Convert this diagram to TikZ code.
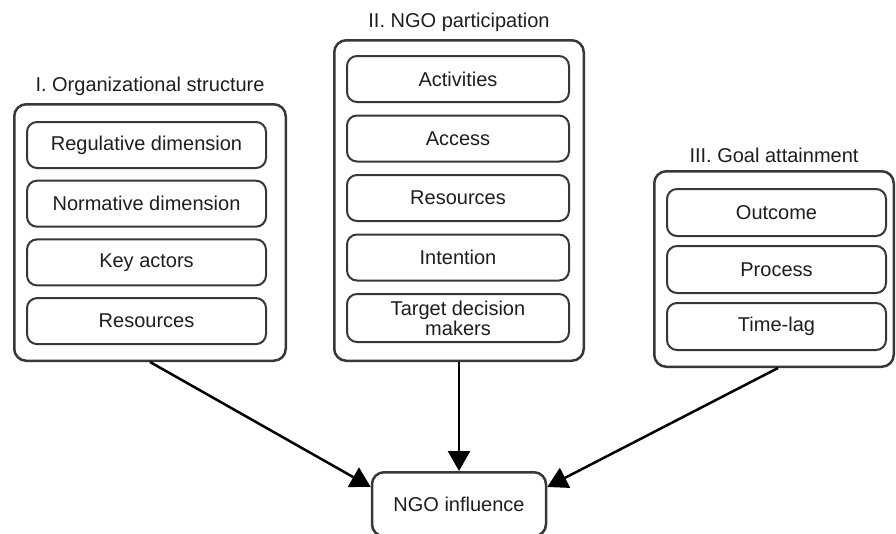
\documentclass[tikz,border=0pt]{standalone}
\usepackage{fontspec}
\setmainfont{Liberation Sans}
\usepackage{xcolor}
\usepackage{tikz}
\usetikzlibrary{arrows.meta, positioning}
\definecolor{edge}{RGB}{55,55,55}
\definecolor{ink}{RGB}{30,30,30}

\begin{document}
\begin{tikzpicture}[
    x=1pt, y=-1pt,
    font=\fontsize{20}{20}\selectfont,
    group/.style={rectangle, draw=edge, line width=2.5pt, rounded corners=12pt, text=ink},
    item/.style={rectangle, draw=edge, line width=2pt, rounded corners=10pt, fill=white, text=ink, inner sep=3pt, minimum height=46pt, align=center},
    title/.style={text=ink},
    link/.style={line width=2.5pt, -{Triangle[length=20pt, width=22pt]}}
]
\useasboundingbox (0,0) rectangle (896,533);

\node[group, minimum width=271.5pt, minimum height=256.5pt] (org) at (150,232.5) {};
\node[title, above=4pt of org] (orgt) {I. Organizational structure};
\node[item, minimum width=239pt, below=18pt of org.north, xshift=-3.5pt] (o1) {Regulative dimension};
\node[item, minimum width=239pt, below=10.7pt of o1] (o2) {Normative dimension};
\node[item, minimum width=239pt, below=10.7pt of o2] (o3) {Key actors};
\node[item, minimum width=239pt, below=10.7pt of o3] (o4) {Resources};

\node[group, minimum width=249.5pt, minimum height=320.5pt] (part) at (459,200.5) {};
\node[title, above=4pt of part] (partt) {II. NGO participation};
\node[item, minimum width=222pt, below=16pt of part.north, xshift=-1pt] (p1) {Activities};
\node[item, minimum width=222pt, below=11.5pt of p1] (p2) {Access};
\node[item, minimum width=222pt, below=11.5pt of p2] (p3) {Resources};
\node[item, minimum width=222pt, below=11.5pt of p3] (p4) {Intention};
\node[item, minimum width=222pt, minimum height=48pt, below=11.5pt of p4] (p5) {Target decision\\makers};

\node[group, minimum width=239.5pt, minimum height=195.5pt] (goal) at (774,269) {};
\node[title, above=4pt of goal] (goalt) {III. Goal attainment};
\node[item, minimum width=219pt, minimum height=47pt, below=18pt of goal.north, xshift=2.5pt] (g1) {Outcome};
\node[item, minimum width=219pt, minimum height=47pt, below=8pt of g1] (g2) {Process};
\node[item, minimum width=219pt, minimum height=47pt, below=8pt of g2] (g3) {Time-lag};

\node[group, minimum width=174pt, minimum height=64pt, below=109pt of part] (ngo) {NGO influence};

\draw[link] (org.south) -- ([yshift=-16pt]ngo.north west);
\draw[link] (part.south) -- (ngo.north);
\draw[link] ([xshift=4pt]goal.south) -- ([yshift=-16pt]ngo.north east);
\end{tikzpicture}
\end{document}
